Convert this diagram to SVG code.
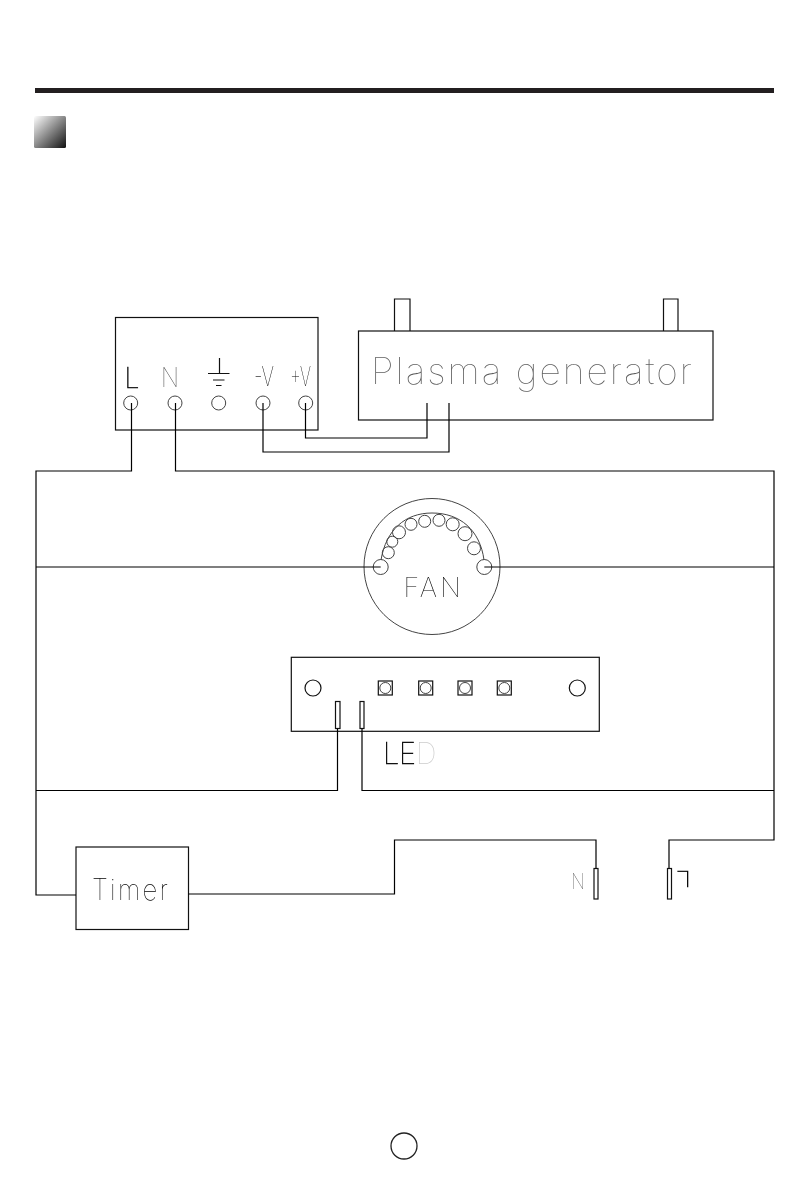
<svg xmlns="http://www.w3.org/2000/svg" width="809" height="1192" viewBox="0 0 809 1192">
<style>
.b{fill:none;stroke:#111;stroke-width:1.2}
.c{fill:none;stroke:#444;stroke-width:1}
.w{fill:none;stroke:#000;stroke-width:1.2}
.t{font-family:"Inter","Liberation Sans",sans-serif;font-weight:100;fill:#000;filter:url(#n)}
.k{stroke:#000;stroke-width:.5}
</style>
<defs><linearGradient id="g" x1="0" y1="0" x2="1" y2="1"><stop offset="0" stop-color="#fff"/><stop offset="1" stop-color="#111"/></linearGradient>
<filter id="n" x="-20%" y="-20%" width="140%" height="140%"><feOffset dx="0" dy="0"/></filter></defs>
<rect id="header-bar" x="35" y="88" width="739" height="5" fill="#231f20"/>
<rect id="header-square" x="34" y="116" width="32" height="32" rx="1.500" fill="url(#g)"/>
<g id="terminal-block">
<rect class="b" x="115.500" y="317.500" width="202.500" height="112.500"/>
<circle class="c" cx="130.700" cy="403" r="7"/><circle class="c" cx="175" cy="403" r="7"/><circle class="c" cx="218.700" cy="403" r="7"/><circle class="c" cx="263" cy="403" r="7"/><circle class="c" cx="305.700" cy="403" r="7"/>
<text class="t k" x="124.500" y="387.500" font-size="28" textLength="15" lengthAdjust="spacingAndGlyphs">L</text>
<text class="t" x="161" y="386.500" font-size="27" textLength="18" lengthAdjust="spacingAndGlyphs" fill-opacity=".75">N</text>
<path class="b" d="M219.500 358V373M208 373.500H229.500M213 380H224.500M216 385.500H221.500"/>
<text class="t" x="254" y="386" font-size="27" textLength="20" lengthAdjust="spacingAndGlyphs">-V</text>
<text class="t" x="290" y="386" font-size="27" textLength="21" lengthAdjust="spacingAndGlyphs">+V</text>
</g>
<g id="plasma-generator">
<rect class="b" x="358.500" y="331" width="354.500" height="89"/>
<path class="b" d="M394.500 331V299H410V331M663.500 331V299H678V331"/>
<text class="t" x="371" y="384" font-size="36" letter-spacing="2" textLength="323" lengthAdjust="spacingAndGlyphs" fill-opacity=".65">Plasma generator</text>
</g>
<g id="fan">
<circle class="c" cx="432" cy="566.500" r="68"/>
<path class="c" d="M381 560C386 530 405 513 432 513C460 513 480 530 484 560"/>
<circle class="c" cx="380.700" cy="567" r="7.500"/><circle class="c" cx="484.300" cy="567" r="7.500"/>
<circle class="c" cx="388.300" cy="552.700" r="6"/><circle class="c" cx="392.300" cy="541.700" r="5.500"/><circle class="c" cx="399" cy="532.300" r="6.500"/><circle class="c" cx="411" cy="524.300" r="6"/><circle class="c" cx="424.700" cy="521.300" r="6"/><circle class="c" cx="439" cy="520.300" r="6"/><circle class="c" cx="452.700" cy="524.300" r="6.500"/><circle class="c" cx="465" cy="533.700" r="7"/><circle class="c" cx="474" cy="548.300" r="6.500"/>
<text class="t" x="403.500" y="597" font-size="27" letter-spacing="3">FAN</text>
</g>
<g id="led-board">
<rect class="b" x="291.300" y="657.300" width="308" height="74"/>
<circle class="b" cx="313" cy="688" r="8"/><circle class="b" cx="577.300" cy="688" r="8"/>
<rect class="b" x="378.300" y="681" width="14" height="14"/><circle class="c" cx="385.300" cy="688" r="5.500"/>
<rect class="b" x="418.700" y="681" width="14" height="14"/><circle class="c" cx="425.700" cy="688" r="5.500"/>
<rect class="b" x="458" y="681" width="14" height="14"/><circle class="c" cx="465" cy="688" r="5.500"/>
<rect class="b" x="497.300" y="681" width="14" height="14"/><circle class="c" cx="504.300" cy="688" r="5.500"/>
<rect class="b" x="335.500" y="701.500" width="4.500" height="27"/>
<rect class="b" x="360" y="701.500" width="4" height="27"/>
<text class="t k" x="383" y="764" font-size="29" letter-spacing="-.3">LE<tspan fill="#ccc" stroke="none">D</tspan></text>
</g>
<g id="timer">
<rect class="b" x="76" y="847" width="112.500" height="82.500"/>
<text class="t" x="92" y="900" font-size="29" letter-spacing="2.500" textLength="78" lengthAdjust="spacingAndGlyphs">Timer</text>
</g>
<g id="plug-n">
<rect class="b" x="594" y="868.500" width="4" height="30.500"/>
<text class="t" x="571" y="889" font-size="22" fill-opacity=".7" textLength="14" lengthAdjust="spacingAndGlyphs">N</text>
</g>
<g id="plug-l">
<rect class="b" x="667.500" y="868.500" width="4" height="30.500"/>
<text class="t k" x="0" y="0" font-size="22" textLength="15" lengthAdjust="spacingAndGlyphs" transform="translate(691 871) rotate(180)">L</text>
</g>
<circle id="page-number" cx="404" cy="1146" r="13" fill="none" stroke="#222" stroke-width="1.300"/>
<g id="connectors">
<path class="w" d="M131.500 403V471H36V895H76"/>
<path class="w" d="M175.500 403V471H774V840H669V868.500"/>
<path class="w" d="M263 403V452H449V403"/>
<path class="w" d="M305.500 403V438H427V403"/>
<path class="w" d="M36 567H380.700M484.300 567H774"/>
<path class="w" d="M36 790.500H337.500V728.500M362 728.500V790.500H774"/>
<path class="w" d="M188.500 894H394.500V840H596V868.500"/>
</g>
</svg>
